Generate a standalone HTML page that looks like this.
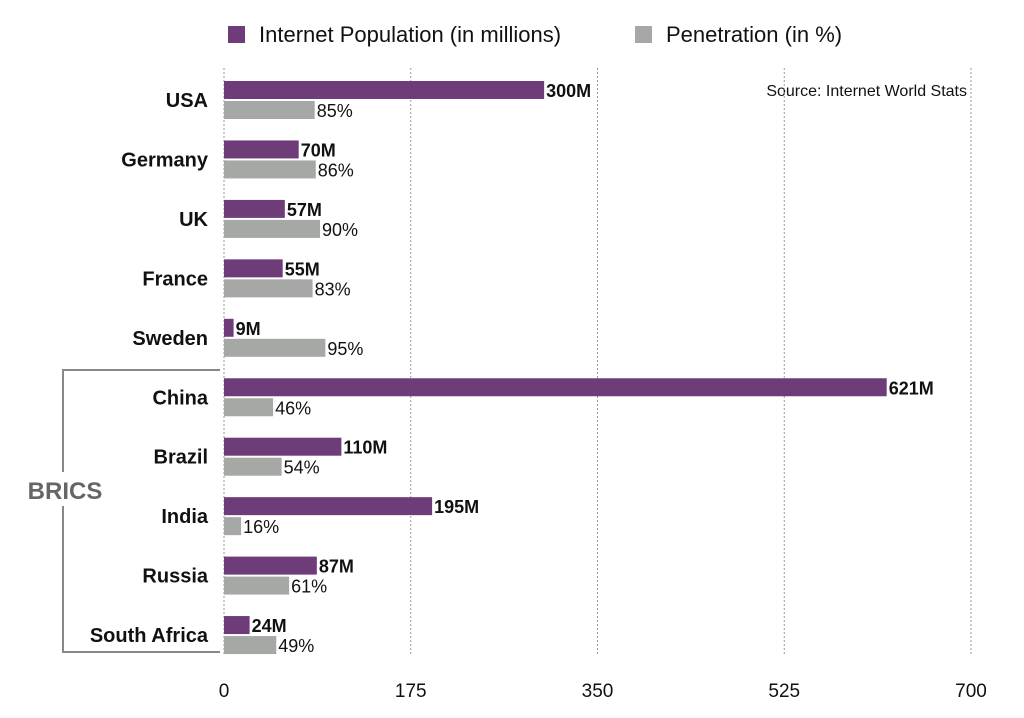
<!DOCTYPE html>
<html><head><meta charset="utf-8"><style>
body{margin:0;background:#fff;width:1024px;height:713px;overflow:hidden;font-family:"Liberation Sans",sans-serif}
</style></head><body>
<svg id="chart" width="1024" height="713" xmlns="http://www.w3.org/2000/svg" font-family="Liberation Sans, sans-serif">
<g>
<rect x="228" y="26" width="17" height="17" fill="#6e3c78"/>
<text x="259" y="42" font-size="22" fill="#111">Internet Population (in millions)</text>
<rect x="635" y="26" width="17" height="17" fill="#a6a8a6"/>
<text x="666" y="42" font-size="22" fill="#111">Penetration (in %)</text>
</g>
<text x="967" y="96" font-size="16" text-anchor="end" fill="#111">Source: Internet World Stats</text>
<g id="grid"></g><g id="bars"></g><g id="labels"></g>
<g>
<path d="M220 370 H63 V652 H220" fill="none" stroke="#888" stroke-width="2"/>
<rect x="20" y="472" width="92" height="34" fill="#fff"/>
<text x="65" y="499" font-size="24" font-weight="bold" fill="#666" text-anchor="middle">BRICS</text>
</g>
</svg>
<script>
const countries=["USA","Germany","UK","France","Sweden","China","Brazil","India","Russia","South Africa"];
const population=[300,70,57,55,9,621,110,195,87,24];
const penetration=[85,86,90,83,95,46,54,16,61,49];
const ticks=[0,175,350,525,700];
const NS="http://www.w3.org/2000/svg";
const x0=224,x1=971,xmax=700,plotTop=68,plotBottom=655,rowTop=100,rowStep=59.45;
function xs(v){return x0+v/xmax*(x1-x0);}
function ys(i){return rowTop+i*rowStep;}
function mk(tag,attrs,parent,txt){const e=document.createElementNS(NS,tag);for(const k in attrs)e.setAttribute(k,attrs[k]);if(txt!==undefined)e.textContent=txt;parent.appendChild(e);return e;}
const grid=document.getElementById('grid'),bars=document.getElementById('bars'),labels=document.getElementById('labels');
ticks.forEach(t=>{
 const l=mk('line',{x1:xs(t),x2:xs(t),y1:plotTop,y2:plotBottom,stroke:'#999','stroke-width':1,'stroke-dasharray':'2,2'},grid);
 
 
 const tx=mk('text',{x:xs(t),y:697,'font-size':19,'text-anchor':'middle',fill:'#111'},grid,String(t));
 
 
});
countries.forEach((c,i)=>{
 const cy=ys(i);
 const cl=mk('text',{x:208,y:cy+7,'font-size':20,'font-weight':'bold','text-anchor':'end',fill:'#111'},labels,c);
 
 
 const b1=mk('rect',{x:x0,y:cy-19,width:xs(population[i])-x0,height:18,fill:'#6e3c78'},bars);
 
 
 const b2=mk('rect',{x:x0,y:cy+1,width:xs(penetration[i])-x0,height:18,fill:'#a6a8a6'},bars);
 
 
 const v1=mk('text',{x:xs(population[i])+2,y:cy-3,'font-size':18,'font-weight':'bold',fill:'#111'},labels,population[i]+'M');
 
 
 const v2=mk('text',{x:xs(penetration[i])+2,y:cy+17,'font-size':18,fill:'#111'},labels,penetration[i]+'%');
 
 
});
</script>
</body></html>
